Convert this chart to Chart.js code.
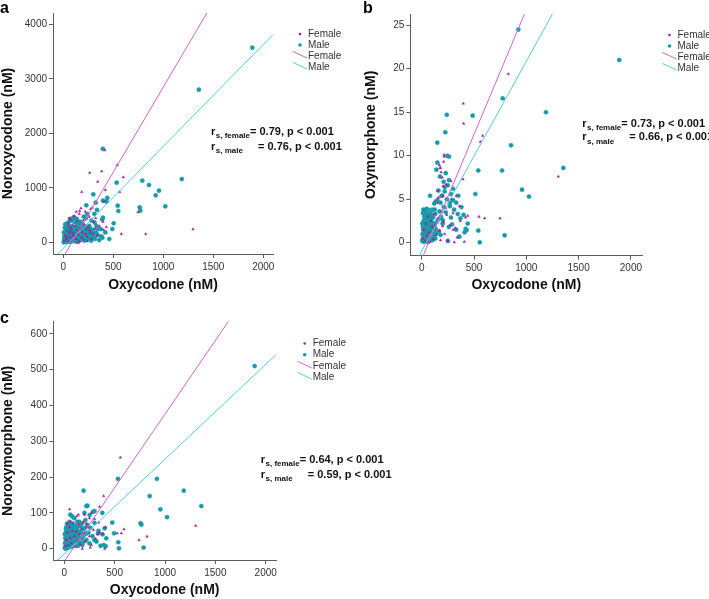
<!DOCTYPE html>
<html>
<head>
<meta charset="utf-8">
<script src="https://cdn.jsdelivr.net/npm/chart.js@4.4.0/dist/chart.umd.min.js"></script>
<style>
  body { margin: 0; background: #fff; }
  #wrap { position: relative; width: 709px; height: 599px; }
  canvas { position: absolute; }
</style>
</head>
<body>
<div id="wrap">
  <canvas id="panelA" width="355" height="300" style="left:0;top:0"></canvas>
  <canvas id="panelB" width="354" height="300" style="left:355px;top:0"></canvas>
  <canvas id="panelC" width="709" height="299" style="left:0;top:300px"></canvas>
</div>
<script>
// tick labels
const xTicks = [0, 500, 1000, 1500, 2000];
const yTicksA = [0, 1000, 2000, 3000, 4000];
const yTicksB = [0, 5, 10, 15, 20, 25];
const yTicksC = [0, 100, 200, 300, 400, 500, 600];

// panel a : noroxycodone vs oxycodone  [oxycodone, noroxycodone]
const femaleA = [
  [415,1690],[540,1418],[264,1277],[384,1303],[344,1112],[600,1193],[420,960],[564,923],[184,923],
  [1297,238],[824,152],[580,152],[747,550],[407,745],[290,635],[164,574],[397,378],[404,226],[57,440],
  [324,440],[264,226],[274,611],[177,624],
  [10,30],[20,120],[30,60],[40,210],[50,15],[60,160],[70,90],[80,250],[90,40],[100,180],[110,110],
  [120,300],[130,60],[140,220],[150,140],[160,10],[170,260],[180,90],[190,190],[200,50],[210,330],
  [220,150],[230,240],[240,100],[250,280],[270,180],[280,60],[300,380],[320,250],[340,120],[50,340],
  [70,420],[90,320],[110,480],[140,390],[160,520],[60,280],[130,560],[240,20],[150,-10],[35,100],
  [75,200],[95,130],[115,70],[200,400],[260,470],[300,150],[360,300],[430,280],[220,560]
];
const maleA = [
  [1890,3570],[1355,2800],[1185,1160],[790,1130],[857,1051],[957,947],[924,862],[1020,660],[764,642],
  [770,580],[534,1094],[544,672],[550,574],[395,1715],[440,813],[430,750],[397,764],[300,880],[230,679],
  [324,727],[337,593],[504,349],[490,244],[390,85],[397,451],[387,420],[314,360],[297,165],[240,519],[104,458],
  [5,0],[8,40],[10,90],[12,15],[15,150],[18,60],[20,200],[22,30],[25,110],[28,5],[30,170],[32,70],
  [35,240],[38,20],[40,130],[42,190],[45,50],[48,260],[50,100],[52,10],[55,160],[58,220],[60,70],
  [62,290],[65,130],[68,35],[70,200],[72,100],[75,260],[78,15],[80,150],[82,230],[85,60],[88,180],
  [90,110],[92,280],[95,30],[98,210],[100,140],[103,80],[106,250],[110,170],[113,40],[116,220],
  [120,120],[123,270],[126,60],[130,190],[133,100],[136,240],[140,20],[143,160],[146,210],[150,80],
  [153,250],[156,130],[160,180],[164,40],[168,230],[172,110],[176,200],[180,60],[185,260],[190,150],
  [195,90],[200,210],[205,130],[210,30],[215,190],[220,250],[225,100],[232,170],[240,60],[248,220],
  [255,140],[262,80],[270,200],[278,30],[286,150],[295,230],[305,100],[318,60],[330,180],[345,130],
  [360,40],[375,240],[60,380],[75,430],[90,400],[105,450],[120,360],[135,430],[150,330],[165,380],
  [185,340],[205,470],[225,440],[260,300],[280,400],[310,520],[330,300],[350,250],[380,110],[420,180],
  [460,60],[20,330],[40,350],
  [14,120],[26,250],[36,40],[44,300],[56,190],[66,10],[76,120],[86,280],[96,170],[108,60],
  [118,260],[128,150],[138,50],[148,280],[158,100],[170,50],[182,220],[194,300],[206,70],[218,150],
  [230,280],[245,110],[265,260],[290,90],[6,180],[16,270],[46,120],[84,20],[124,10],[188,110]
];

// panel b : oxymorphone vs oxycodone
const femaleB = [
  [828,19.4],[398,16.0],[401,13.7],[583,12.3],[561,11.6],[1306,7.6],[548,3.0],[602,2.8],[748,2.8],
  [213,10.1],[210,9.3],[280,7.1],[312,0.05],[407,0.1],[395,7.3],[330,5.4],[360,4.2],[420,2.9],
  [440,3.1],[300,1.5],[250,0.3],[200,1.9],[180,8.6],[170,8.9],
  [10,0.5],[20,1.5],[30,0.2],[40,2.2],[50,0.8],[60,3.0],[70,1.2],[80,0.1],[90,2.5],[100,1.8],
  [110,0.4],[120,3.3],[130,2.0],[140,0.9],[150,4.6],[160,2.8],[170,1.4],[180,0.3],[190,3.6],
  [200,5.4],[210,2.4],[220,1.0],[230,4.0],[240,3.2],[250,0.2],[270,2.0],[280,5.0],[300,3.4],
  [320,1.7],[340,0.6],[370,2.5],[150,6.0],[175,8.6],[185,8.1],[195,7.5],[160,5.2],[205,6.5],
  [235,6.7],[125,4.8],[65,0.0],[215,9.9]
];
const maleB = [
  [924,24.5],[1889,21.0],[774,16.6],[1354,8.6],[240,14.7],[487,14.6],[1188,15.0],[226,12.7],
  [149,11.5],[854,11.2],[261,9.9],[541,8.3],[768,8.3],[959,6.1],[1026,5.3],[513,5.6],[541,1.4],
  [555,0.05],[793,0.85],[430,1.45],[245,10.0],
  [80,5.4],[150,9.2],[140,8.4],[230,8.0],[175,7.6],[210,7.0],[250,6.6],[160,6.0],[195,5.4],
  [220,5.9],[280,5.6],[300,4.9],[330,4.6],[350,5.4],[310,3.8],[270,4.2],[380,4.1],[400,3.2],
  [420,1.6],[440,2.2],[230,3.5],[290,2.1],[330,1.5],[360,0.7],[250,0.2],[200,2.6],[300,6.2],
  [180,4.6],[260,7.2],[345,3.3],[410,1.2],[370,2.8],
  [5,0.2],[8,1.0],[10,0.4],[12,1.8],[15,0.8],[18,2.5],[20,0.1],[22,1.3],[25,3.0],[28,0.6],
  [30,2.0],[32,1.1],[35,3.6],[38,0.3],[40,2.4],[42,1.6],[45,0.9],[48,3.2],[50,2.0],[52,0.5],
  [55,1.4],[58,2.8],[60,3.8],[62,1.0],[65,2.2],[68,0.2],[70,1.7],[72,3.0],[75,2.5],[78,0.7],
  [80,1.9],[85,3.4],[88,1.2],[90,2.6],[95,0.4],[100,3.8],[105,1.5],[110,2.9],[115,0.8],[120,4.5],
  [125,2.1],[130,3.3],[140,1.1],[150,4.9],[160,2.7],[170,3.6],[180,0.9],[190,5.4],[200,2.2],
  [210,4.1],[220,6.4],[240,5.0],[260,1.8],[270,4.6],[280,2.9],[15,1.5],[25,0.9],[35,2.3],
  [45,1.9],[55,2.6],[65,0.6],[75,1.1],[85,2.0],[95,1.6],[105,0.3],[30,0.5],[50,1.2],[70,2.8],
  [90,0.9],[110,1.4],[130,0.5],[60,1.5],[40,0.8],[20,2.0],[100,2.3],
  [12,3.4],[24,2.6],[36,1.4],[46,3.9],[54,0.1],[64,3.3],[74,0.3],[84,2.7],[94,3.1],[104,1.0],
  [114,2.0],[124,3.8],[134,1.6],[144,2.4],[164,1.3],[184,3.0],[6,2.2],[16,3.8],[26,1.8],[44,2.8]
];

// panel c : noroxymorphone vs oxycodone
const femaleC = [
  [556,255],[391,147],[1305,64],[593,54],[567,43],[524,43],[821,34],[742,24],[351,117],[53,110],
  [126,91],[301,83],[401,0],[258,3],[179,0],[341,73],[411,60],
  [10,8],[20,25],[30,45],[40,10],[50,60],[60,30],[70,15],[80,50],[90,72],[100,35],[110,5],
  [120,48],[130,22],[140,68],[150,40],[160,12],[170,55],[180,30],[190,75],[200,45],[210,20],
  [230,60],[250,35],[270,10],[290,52],[310,28],[330,40],[350,45],[380,42],[270,100],[250,85],
  [220,70],[60,75],[30,70],[140,95],[200,95]
];
const maleC = [
  [1890,510],[533,195],[920,195],[1186,162],[1361,119],[848,147],[954,110],[1020,88],[192,162],
  [758,71],[765,67],[788,3],[543,1],[536,18],[477,73],[494,43],[417,29],[401,57],[378,100],
  [285,103],[252,94],[219,119],[391,10],[411,7],[299,24],[335,43],
  [5,2],[8,15],[10,30],[12,5],[15,45],[18,20],[20,60],[22,8],[25,35],[28,70],[30,12],[32,50],
  [35,25],[38,3],[40,40],[42,65],[45,18],[48,55],[50,30],[52,75],[55,10],[58,45],[60,22],[62,62],
  [65,38],[68,5],[70,52],[72,28],[75,70],[78,15],[80,42],[85,58],[88,33],[90,8],[95,48],[100,25],
  [105,65],[110,40],[115,12],[120,55],[125,32],[130,75],[140,20],[150,48],[160,62],[170,30],
  [180,10],[190,55],[200,40],[210,80],[220,25],[230,66],[240,45],[250,15],[260,58],[280,35],
  [300,72],[320,20],[340,50],[360,8],[380,40],[60,95],[80,90],[100,85],[150,75],[230,120],
  [200,100],[300,105],[20,22],[40,10],[60,40],[80,20],[100,50],[120,15],[140,40],[15,0],[35,60],[55,28],
  [6,40],[16,55],[26,18],[46,4],[66,48],[76,35],[86,12],[96,62],[106,20],[116,45],[126,60],
  [136,8],[146,30],[156,18],[166,45],[176,70],[186,35],[196,20],[206,58],[216,42]
];

// fit lines [slope, intercept] : female, male
const fitA = [[3.12, -272], [1.87, -110]];
const fitB = [[0.0287, -1.9], [0.0218, -0.95]];
const fitC = [[0.411, -35], [0.265, -15]];

// spearman rho : female, male
const rhoA = [0.79, 0.76];
const rhoB = [0.73, 0.66];
const rhoC = [0.64, 0.59];

const FONT = '"Liberation Sans", Arial, sans-serif';
Chart.defaults.font.family = FONT;

const FEMALE = '#a0209f';
const MALE = '#1a9aa8';
const FEMALE_LINE = '#cc66cc';
const MALE_LINE = '#5ccaca';

function toPts(arr) {
  return arr.map(p => ({ x: p[0], y: p[1] }));
}

function fitLine(fit, xmin, xmax) {
  return [{ x: xmin, y: fit[0] * xmin + fit[1] }, { x: xmax, y: fit[0] * xmax + fit[1] }];
}

const decor = {
  id: 'decor',
  afterDraw(chart, args, o) {
    const ctx = chart.ctx;
    ctx.save();
    // panel letter
    ctx.fillStyle = '#000';
    ctx.textAlign = 'left';
    ctx.textBaseline = 'alphabetic';
    ctx.font = 'bold 16px ' + FONT;
    ctx.fillText(o.letter, o.letterX, o.letterY);

    // legend
    ctx.font = '10px ' + FONT;
    ctx.textBaseline = 'middle';
    chart.data.datasets.forEach((ds, i) => {
      const y = o.legendY + i * o.legendGap;
      const tx = o.legendX;
      if (ds.showLine) {
        ctx.strokeStyle = ds.borderColor;
        ctx.lineWidth = 1;
        ctx.beginPath();
        ctx.moveTo(tx - 15, y - 4.5);
        ctx.lineTo(tx - 1, y + 2);
        ctx.stroke();
      } else {
        ctx.fillStyle = ds.backgroundColor;
        ctx.beginPath();
        ctx.arc(tx - 8, y, ds.pointStyle === 'triangle' ? 1.3 : 1.8, 0, Math.PI * 2);
        ctx.fill();
      }
      ctx.fillStyle = '#333';
      ctx.fillText(ds.label, tx, y);
    });

    // correlation text
    ctx.fillStyle = '#111';
    let mainX = null;
    o.stats.forEach((s, i) => {
      const y = o.statY + i * o.statGap;
      ctx.font = 'bold 11px ' + FONT;
      ctx.fillText('r', o.statX, y);
      const rw = ctx.measureText('r').width;
      ctx.font = 'bold 8px ' + FONT;
      ctx.fillText(s[0], o.statX + rw + 0.5, y + 4);
      const sw = ctx.measureText(s[0]).width;
      ctx.font = 'bold 11px ' + FONT;
      if (mainX === null) mainX = o.statX + rw + sw + 0.5;
      ctx.fillText(s[1], mainX + (i === 0 ? 0 : 8), y);
    });
    ctx.restore();
  }
};

function makePanel(id, cfg) {
  const axisColor = '#5c5c5c';
  const tickFont = { size: 10 };
  new Chart(document.getElementById(id), {
    type: 'scatter',
    data: {
      datasets: [
        { label: 'Female', data: toPts(cfg.female), pointStyle: 'triangle', pointRadius: 1.5,
          backgroundColor: FEMALE, borderColor: FEMALE, pointBorderWidth: 0.4, order: 2 },
        { label: 'Male', data: toPts(cfg.male), pointStyle: 'circle', pointRadius: 2.1,
          backgroundColor: MALE, borderColor: MALE, pointBorderWidth: 0.5, order: 3 },
        { label: 'Female', data: fitLine(cfg.fit[0], cfg.xMin, cfg.xMax), showLine: true,
          pointRadius: 0, borderColor: FEMALE_LINE, backgroundColor: FEMALE_LINE, borderWidth: 1, order: 0 },
        { label: 'Male', data: fitLine(cfg.fit[1], cfg.xMin, cfg.xMax), showLine: true,
          pointRadius: 0, borderColor: MALE_LINE, backgroundColor: MALE_LINE, borderWidth: 1, order: 1 }
      ]
    },
    options: {
      responsive: false,
      animation: false,
      devicePixelRatio: 1,
      layout: { padding: cfg.padding },
      plugins: {
        legend: { display: false },
        tooltip: { enabled: false },
        decor: cfg.decor
      },
      scales: {
        x: {
          type: 'linear', min: cfg.xMin, max: cfg.xMax,
          afterBuildTicks: s => { s.ticks = xTicks.map(v => ({ value: v })); },
          afterFit: s => { s.height = cfg.xHeight; },
          ticks: { font: tickFont, color: '#333', padding: 3, maxRotation: 0, autoSkip: false,
            callback: v => String(v) },
          grid: { display: true, drawOnChartArea: false, drawTicks: true, tickLength: 4, color: axisColor },
          border: { display: true, color: axisColor, width: 1 },
          title: { display: true, text: 'Oxycodone (nM)', color: '#111',
            font: { size: 14, weight: 'bold' }, padding: { top: 0, bottom: cfg.xTitlePad } }
        },
        y: {
          type: 'linear', min: cfg.yMin, max: cfg.yMax,
          afterBuildTicks: s => { s.ticks = cfg.yTicks.map(v => ({ value: v })); },
          afterFit: s => { s.width = cfg.yWidth; },
          ticks: { font: tickFont, color: '#333', padding: 2, autoSkip: false,
            callback: v => String(v) },
          grid: { display: true, drawOnChartArea: false, drawTicks: true, tickLength: 4, color: axisColor },
          border: { display: true, color: axisColor, width: 1 },
          title: { display: true, text: cfg.yTitle, color: '#111',
            font: { size: 14, weight: 'bold' }, padding: { top: cfg.yTitlePad, bottom: 0 } }
        }
      }
    },
    plugins: [decor]
  });
}

function statsText(rho) {
  return [
    ['s, female', '= ' + rho[0].toFixed(2) + ', p < 0.001'],
    ['s, male', '= ' + rho[1].toFixed(2) + ', p < 0.001']
  ];
}

makePanel('panelA', {
  female: femaleA, male: maleA, fit: fitA, yTicks: yTicksA, yTitle: 'Noroxycodone (nM)',
  xMin: -103, xMax: 2097, yMin: -215, yMax: 4207,
  padding: { left: 0, top: 13, right: 82, bottom: 0 }, xHeight: 46, yWidth: 53,
  xTitlePad: 6, yTitlePad: 0,
  decor: { letter: 'a', letterX: 0, letterY: 13, legendX: 308, legendY: 34, legendGap: 11,
    stats: statsText(rhoA), statX: 211, statY: 131.7, statGap: 15 }
});

makePanel('panelB', {
  female: femaleB, male: maleB, fit: fitB, yTicks: yTicksB, yTitle: 'Oxymorphone (nM)',
  xMin: -109, xMax: 2109, yMin: -1.49, yMax: 26.29,
  padding: { left: 0, top: 14, right: 66.7, bottom: 0 }, xHeight: 44.3, yWidth: 55.3,
  xTitlePad: 6, yTitlePad: 8,
  decor: { letter: 'b', letterX: 8, letterY: 13, legendX: 322.5, legendY: 35, legendGap: 11,
    stats: statsText(rhoB), statX: 227.3, statY: 123.7, statGap: 13.6 }
});

makePanel('panelC', {
  female: femaleC, male: maleC, fit: fitC, yTicks: yTicksC, yTitle: 'Noroxymorphone (nM)',
  xMin: -109, xMax: 2102, yMin: -31.6, yMax: 634,
  padding: { left: 0, top: 21.7, right: 433, bottom: 0 }, xHeight: 39, yWidth: 53.3,
  xTitlePad: 0, yTitlePad: 0,
  decor: { letter: 'c', letterX: 0, letterY: 23, legendX: 312.7, legendY: 43.5, legendGap: 11.2,
    stats: statsText(rhoC), statX: 260.7, statY: 160, statGap: 15 }
});
</script>
</body>
</html>
